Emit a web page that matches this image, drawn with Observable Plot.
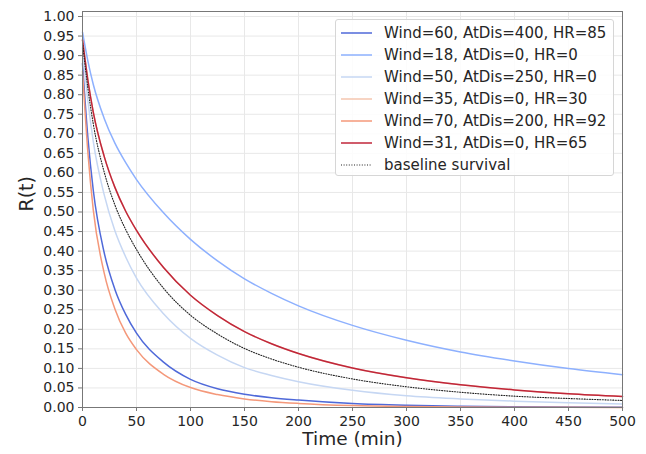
<!DOCTYPE html>
<html>
<head>
<meta charset="utf-8">
<script src="https://cdn.jsdelivr.net/npm/d3@7"></script>
<script src="https://cdn.jsdelivr.net/npm/@observablehq/plot@0.6"></script>
<style>
  html, body { margin: 0; padding: 0; background: #fff; }
  #wrap { position: relative; width: 646px; height: 454px; font-family: "DejaVu Sans", sans-serif; }
  #legend {
    position: absolute; left: 335px; top: 19px; width: 279px; height: 157px;
    box-sizing: border-box; border: 1px solid #d6d6d6; border-radius: 3px;
    background: rgba(255,255,255,0.85); padding-top: 2px;
  }
  .row { display: flex; align-items: center; height: 22px; font-size: 15px; color: #262626; }
  .row svg { margin-left: 5px; margin-right: 12px; flex: none; }
</style>
</head>
<body>
<div id="wrap"><div id="chart"></div><div id="legend"></div></div>
<script>
// Time grid (minutes) at which the survival curves are sampled
const times = [0, 5, 10, 20, 30, 40, 50, 75, 100, 125, 150, 175, 200, 250, 300, 350, 400, 450, 500];

// Survival probabilities R(t) for each covariate profile
const rWind60 = [0.88, 0.69, 0.555, 0.397, 0.302, 0.238, 0.19, 0.116, 0.072, 0.048, 0.034, 0.025, 0.019, 0.010, 0.0055, 0.0032, 0.0019, 0.0011, 0.0007];
const rWind18 = [0.96, 0.886, 0.826, 0.740, 0.676, 0.626, 0.583, 0.498, 0.430, 0.375, 0.329, 0.292, 0.260, 0.210, 0.172, 0.142, 0.119, 0.0996, 0.084];
const rWind50 = [0.92, 0.785, 0.68, 0.545, 0.452, 0.385, 0.331, 0.240, 0.177, 0.134, 0.102, 0.082, 0.066, 0.044, 0.030, 0.022, 0.0163, 0.0119, 0.0088];
const rWind35 = [0.94, 0.837, 0.755, 0.643, 0.563, 0.502, 0.453, 0.358, 0.287, 0.235, 0.194, 0.163, 0.138, 0.101, 0.076, 0.058, 0.045, 0.035, 0.028];
const rWind70 = [0.86, 0.652, 0.505, 0.345, 0.252, 0.19, 0.148, 0.085, 0.051, 0.033, 0.022, 0.015, 0.0105, 0.005, 0.0025, 0.0013, 0.0007, 0.0004, 0.0002];
const rWind31 = [0.94, 0.837, 0.755, 0.643, 0.563, 0.502, 0.453, 0.358, 0.287, 0.235, 0.194, 0.163, 0.138, 0.101, 0.076, 0.058, 0.045, 0.035, 0.028];
const rBaseline = [0.933, 0.816, 0.725, 0.603, 0.518, 0.455, 0.404, 0.305, 0.236, 0.188, 0.151, 0.124, 0.103, 0.073, 0.053, 0.039, 0.029, 0.023, 0.018];

const seriesNames = [
  "Wind=60, AtDis=400, HR=85",
  "Wind=18, AtDis=0, HR=0",
  "Wind=50, AtDis=250, HR=0",
  "Wind=35, AtDis=0, HR=30",
  "Wind=70, AtDis=200, HR=92",
  "Wind=31, AtDis=0, HR=65"
];
const seriesValues = [rWind60, rWind18, rWind50, rWind35, rWind70, rWind31];
const seriesColors = ["#4f69d9", "#8db0fe", "#c6d7f3", "#f4c6af", "#f4987a", "#c0263a"];
const baselineName = "baseline survival";

const xTicks = [0, 50, 100, 150, 200, 250, 300, 350, 400, 450, 500];
const yTicks = [0, 0.05, 0.1, 0.15, 0.2, 0.25, 0.3, 0.35, 0.4, 0.45, 0.5, 0.55, 0.6, 0.65, 0.7, 0.75, 0.8, 0.85, 0.9, 0.95, 1.0];

const rows = seriesNames.flatMap((name, i) =>
  times.map((t, j) => ({series: name, t, r: seriesValues[i][j]}))
);
const baseRows = times.map((t, j) => ({t, r: rBaseline[j]}));

const chart = Plot.plot({
  width: 646,
  height: 454,
  marginLeft: 82,
  marginRight: 24,
  marginTop: 11,
  marginBottom: 47,
  style: {fontFamily: "DejaVu Sans, sans-serif", fontSize: "14px", color: "#262626", background: "#fff"},
  x: {domain: [0, 500]},
  y: {domain: [0, 1.0128]},
  color: {domain: seriesNames, range: seriesColors},
  marks: [
    Plot.gridX(xTicks, {stroke: "#e8e8e8", strokeOpacity: 1, strokeWidth: 1}),
    Plot.gridY(yTicks, {stroke: "#e8e8e8", strokeOpacity: 1, strokeWidth: 1}),
    Plot.line(rows, {x: "t", y: "r", z: "series", stroke: "series", strokeWidth: 1.5, curve: "monotone-x"}),
    Plot.line(baseRows, {x: "t", y: "r", stroke: "#222", strokeWidth: 1.1, strokeDasharray: "1,1.6", curve: "monotone-x"}),
    Plot.frame({stroke: "#777", strokeWidth: 1}),
    Plot.axisX(xTicks, {tickSize: 4, tickPadding: 5, stroke: "#777", label: null, fontSize: 14}),
    Plot.axisY(yTicks, {tickSize: 4, tickPadding: 4, stroke: "#777", label: null, fontSize: 14, tickFormat: d3.format(".2f")}),
    Plot.text(["Time (min)"], {frameAnchor: "bottom", dy: 37.5, fontSize: 18.5, fill: "#262626"}),
    Plot.text(["R(t)"], {frameAnchor: "left", dx: -56, dy: 2, rotate: -90, fontSize: 19, fill: "#262626"})
  ]
});
document.getElementById("chart").appendChild(chart);

// Legend box drawn over the top-right of the plot
const legend = d3.select("#legend");
function addRow(name, color, dash, width) {
  const row = legend.append("div").attr("class", "row");
  const sw = row.append("svg").attr("width", 31).attr("height", 4);
  sw.append("line")
    .attr("x1", 0).attr("x2", 31).attr("y1", 2).attr("y2", 2)
    .attr("stroke", color).attr("stroke-width", width)
    .attr("stroke-dasharray", dash);
  row.append("span").text(name);
}
seriesNames.forEach((name, i) => addRow(name, seriesColors[i], null, 1.5));
addRow(baselineName, "#222", "1,1.6", 1.1);
</script>
</body>
</html>
